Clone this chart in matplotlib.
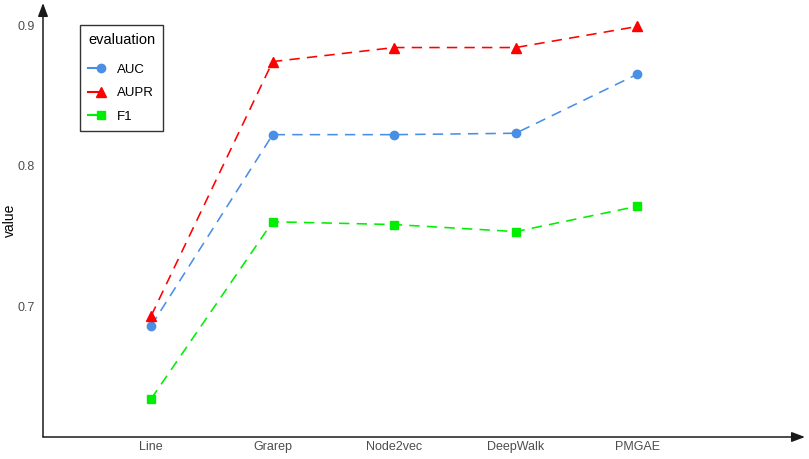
import matplotlib.pyplot as plt
from matplotlib.lines import Line2D
from matplotlib.legend_handler import HandlerLine2D

plt.rcParams["font.family"] = ["Liberation Sans", "DejaVu Sans"]

methods = ["Line", "Grarep", "Node2vec", "DeepWalk", "PMGAE"]
auc = [0.686, 0.822, 0.822, 0.823, 0.865]
aupr = [0.693, 0.874, 0.884, 0.884, 0.899]
f1 = [0.634, 0.760, 0.758, 0.753, 0.771]

yticks = [0.7, 0.8, 0.9]

series = [
    ("AUC", auc, "#4A8FE6", "o", 6),
    ("AUPR", aupr, "#FF0000", "^", 7.5),
    ("F1", f1, "#00EE00", "s", 6),
]
dash = (0, (6.5, 4.5))


class EndMarker(HandlerLine2D):
    # ggplot-like key: short line with the point at its right end
    def create_artists(self, legend, orig_handle, xdescent, ydescent,
                       width, height, fontsize, trans):
        yc = height / 2 - ydescent
        ln = Line2D([-xdescent, width - xdescent], [yc, yc],
                    color=orig_handle.get_color(), lw=orig_handle.get_linewidth())
        mk = Line2D([width - xdescent], [yc], linestyle="none",
                    marker=orig_handle.get_marker(),
                    markersize=orig_handle.get_markersize(),
                    color=orig_handle.get_color())
        ln.set_transform(trans)
        mk.set_transform(trans)
        return [ln, mk]


fig = plt.figure(figsize=(8.09, 4.59), dpi=100)
W, H = 809, 459
ax = fig.add_axes([43 / W, 1 - 437 / H, (805 - 43) / W, (437 - 3) / H])

x = list(range(len(methods)))
handles = []
for name, vals, col, mk, ms in series:
    ax.plot(x, vals, color=col, linestyle=dash, lw=1.15)
    ax.plot(x, vals, color=col, linestyle="none", marker=mk, markersize=ms)
    handles.append(Line2D([0], [0], color=col, lw=1.5, marker=mk, markersize=ms))

ax.set_xlim(-0.89, 5.38)
ax.set_ylim(0.6068, 0.9157)
ax.set_xticks(x)
ax.set_xticklabels(methods)
ax.set_yticks(yticks)
ax.set_yticklabels([str(t) for t in yticks])
ax.tick_params(length=0, labelsize=9, labelcolor="#4D4D4D")
ax.tick_params(axis="x", pad=3)
ax.tick_params(axis="y", pad=6)
ax.set_ylabel("value", fontsize=10)
ax.yaxis.set_label_coords(-0.034, 0.5)

for s in ax.spines.values():
    s.set_visible(False)
arrow = dict(arrowstyle="-|>,head_length=0.8,head_width=0.3", color="#1a1a1a",
             lw=1.1, shrinkA=0, shrinkB=0)
ax.annotate("", xy=(1, 0), xytext=(0, 0), xycoords="axes fraction", arrowprops=arrow)
ax.annotate("", xy=(0, 1), xytext=(0, 0), xycoords="axes fraction", arrowprops=arrow)

leg = ax.legend(handles, ["AUC", "AUPR", "F1"], title="evaluation",
                loc="upper left", bbox_to_anchor=(80 / W, 1 - 25 / H),
                bbox_transform=fig.transFigure,
                handler_map={Line2D: EndMarker()},
                fontsize=9.5, title_fontsize=10.5, frameon=True, fancybox=False,
                edgecolor="black", handlelength=1.0, handletextpad=1.2,
                labelspacing=0.85, borderpad=0.6, borderaxespad=0)
leg._legend_box.align = "left"
leg._legend_box.sep = 12
leg.get_frame().set_linewidth(1)

fig.savefig("out.png", dpi=100)
